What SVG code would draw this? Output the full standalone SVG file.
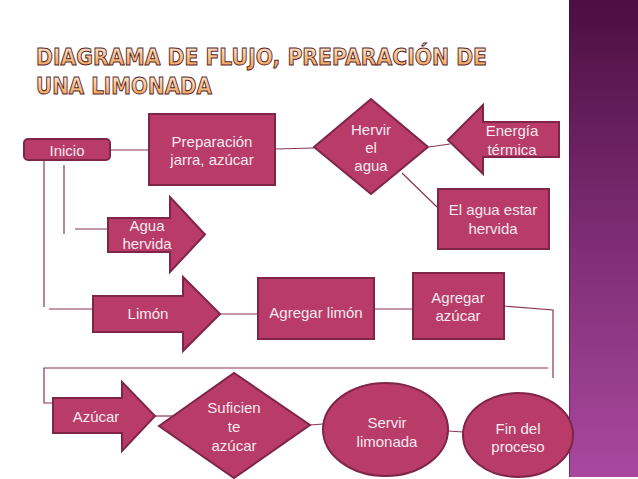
<svg xmlns="http://www.w3.org/2000/svg" width="638" height="479" viewBox="0 0 638 479">
<defs>
<linearGradient id="panel" x1="0" y1="0" x2="0" y2="1">
<stop offset="0" stop-color="#4c0e43"/>
<stop offset="0.45" stop-color="#792a6f"/>
<stop offset="1" stop-color="#a9489f"/>
</linearGradient>
<linearGradient id="title" x1="0" y1="0" x2="0" y2="1">
<stop offset="0" stop-color="#fff3e0"/>
<stop offset="0.5" stop-color="#f8c48c"/>
<stop offset="1" stop-color="#ee9a45"/>
</linearGradient>
<style>
.n{fill:#b83b68;stroke:#7f2548;stroke-width:2}
.t{font-family:"Liberation Sans",Arial,sans-serif;font-size:15px;fill:#f6e9ef;text-anchor:middle}
.c{fill:none;stroke:#8b3556;stroke-width:1.2}
.ti{font-family:"DejaVu Sans",sans-serif;font-weight:bold;font-size:23px;fill:url(#title);stroke:#5b1f2d;stroke-width:1}
</style>
</defs>
<rect width="638" height="479" fill="#ffffff"/>
<g id="panel-side">
<rect x="569" y="0" width="69" height="477" fill="url(#panel)"/>
<line x1="569.5" y1="0" x2="569.5" y2="477" stroke="#3e0a36" stroke-opacity="0.5" stroke-width="1"/>
</g>
<g id="title-text">
<text class="ti" x="36" y="65" textLength="451" lengthAdjust="spacingAndGlyphs">DIAGRAMA DE FLUJO, PREPARACIÓN DE</text>
<text class="ti" x="36" y="94" textLength="176" lengthAdjust="spacingAndGlyphs">UNA LIMONADA</text>
</g>
<g id="connectors">
<line class="c" x1="110" y1="150" x2="149" y2="150"/>
<line class="c" x1="275" y1="149" x2="314" y2="148"/>
<line class="c" x1="429" y1="147" x2="450" y2="144"/>
<line class="c" x1="402" y1="173" x2="437" y2="207"/>
<line class="c" x1="44" y1="160" x2="44" y2="307"/>
<line class="c" x1="49" y1="309" x2="93" y2="309"/>
<line class="c" x1="64" y1="165" x2="64" y2="234"/>
<line class="c" x1="75" y1="229" x2="108" y2="229"/>
<line class="c" x1="220" y1="314" x2="258" y2="314"/>
<line class="c" x1="374" y1="309" x2="413" y2="309"/>
<polyline class="c" points="504,306 553,310 553,378"/>
<polyline class="c" points="548,368 44,368 44,403 53,403"/>
<line class="c" x1="155" y1="416" x2="174" y2="416"/>
<line class="c" x1="310" y1="425" x2="323" y2="424"/>
<line class="c" x1="448" y1="431" x2="463" y2="432"/>
</g>
<g id="inicio">
<rect class="n" x="24" y="139" width="86" height="21" rx="4"/>
<text class="t" x="67" y="156">Inicio</text>
</g>
<g id="preparacion">
<rect class="n" x="149" y="114" width="126" height="71"/>
<text class="t" x="212" y="147">Preparación</text>
<text class="t" x="212" y="165">jarra, azúcar</text>
</g>
<g id="hervir">
<polygon class="n" points="314,147 371,99 428,147 371,194"/>
<text class="t" x="371" y="135">Hervir</text>
<text class="t" x="371" y="153">el</text>
<text class="t" x="371" y="171">agua</text>
</g>
<g id="energia">
<polygon class="n" points="448,140 483,105 483,122 559,122 559,157 483,157 483,174"/>
<text class="t" x="512" y="136">Energía</text>
<text class="t" x="512" y="155">térmica</text>
</g>
<g id="agua-estar">
<rect class="n" x="438" y="189" width="111" height="60"/>
<text class="t" x="493" y="215">El agua estar</text>
<text class="t" x="493" y="234">hervida</text>
</g>
<g id="agua-hervida">
<polygon class="n" points="108,218 170,218 170,197 205,234.5 170,272 170,252 108,252"/>
<text class="t" x="147" y="231">Agua</text>
<text class="t" x="147" y="249">hervida</text>
</g>
<g id="limon">
<polygon class="n" points="93,296 183,296 183,277 220,314 183,351 183,332 93,332"/>
<text class="t" x="148" y="319">Limón</text>
</g>
<g id="agregar-limon">
<rect class="n" x="258" y="278" width="116" height="61"/>
<text class="t" x="316" y="318">Agregar limón</text>
</g>
<g id="agregar-azucar">
<rect class="n" x="413" y="273" width="91" height="66"/>
<text class="t" x="458" y="303">Agregar</text>
<text class="t" x="458" y="321">azúcar</text>
</g>
<g id="azucar">
<polygon class="n" points="53,398 122,398 122,382 155,416 122,451 122,433 53,433"/>
<text class="t" x="96" y="422">Azúcar</text>
</g>
<g id="suficiente">
<polygon class="n" points="159,426 234,373 310,425 234,478"/>
<text class="t" x="234" y="413">Suficien</text>
<text class="t" x="234" y="432">te</text>
<text class="t" x="234" y="451">azúcar</text>
</g>
<g id="servir">
<ellipse class="n" cx="385.5" cy="429.5" rx="62.5" ry="46.5"/>
<text class="t" x="387" y="428">Servir</text>
<text class="t" x="387" y="447">limonada</text>
</g>
<g id="fin">
<ellipse class="n" cx="518" cy="435" rx="55" ry="42"/>
<text class="t" x="518" y="434">Fin del</text>
<text class="t" x="518" y="452">proceso</text>
</g>
</svg>
